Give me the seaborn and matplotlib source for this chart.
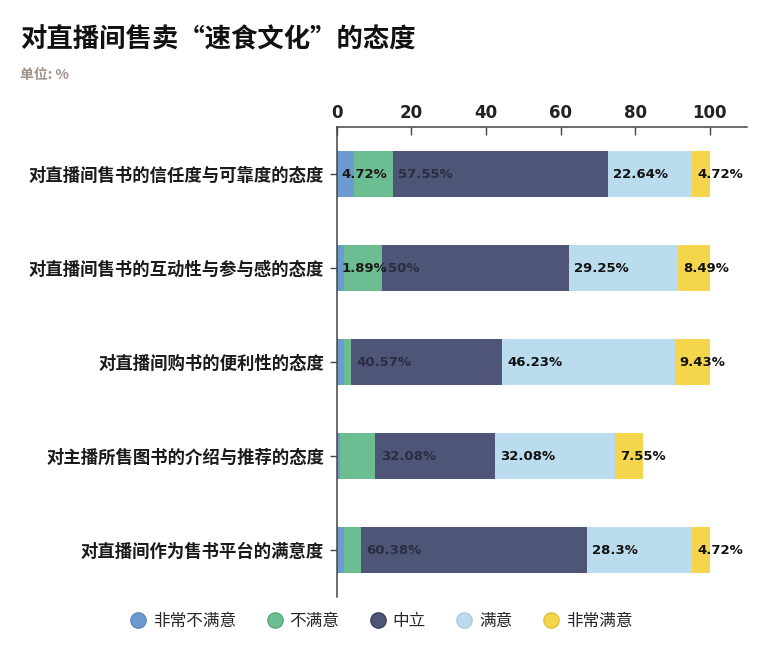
import numpy as np
import pandas as pd
import seaborn as sns
import matplotlib.pyplot as plt
from matplotlib.lines import Line2D

categories = ["对直播间售书的信任度与可靠度的态度",
              "对直播间售书的互动性与参与感的态度",
              "对直播间购书的便利性的态度",
              "对主播所售图书的介绍与推荐的态度",
              "对直播间作为售书平台的满意度"]
series = ["非常不满意", "不满意", "中立", "满意", "非常满意"]
very_unsat = [4.72, 1.89, 1.89, 0.94, 1.89]
unsat = [10.38, 10.38, 1.89, 9.43, 4.72]
neutral = [57.55, 50.0, 40.57, 32.08, 60.38]
sat = [22.64, 29.25, 46.23, 32.08, 28.3]
very_sat = [4.72, 8.49, 9.43, 7.55, 4.72]
label_texts = [
    ["4.72%", "", "57.55%", "22.64%", "4.72%"],
    ["1.89%", "", "50%", "29.25%", "8.49%"],
    ["", "", "40.57%", "46.23%", "9.43%"],
    ["", "", "32.08%", "32.08%", "7.55%"],
    ["", "", "60.38%", "28.3%", "4.72%"],
]
xticks = [0, 20, 40, 60, 80, 100]

colors = ["#6b9bcf", "#6dbd93", "#4f5576", "#badcee", "#f4d54b"]
edges = ["#5a88b8", "#5aa67e", "#3b4060", "#a9cde0", "#e2c23a"]
label_colors = ["#1a1a1a", "#1a1a1a", "#2a2d42", "#111111", "#111111"]

sns.set_theme(style="white")
plt.rcParams['font.family'] = ['Noto Sans CJK SC', 'DejaVu Sans']

vals = np.array([very_unsat, unsat, neutral, sat, very_sat])  # series x category
cum = np.cumsum(vals, axis=0)
starts = cum - vals

fig = plt.figure(figsize=(7.67, 6.52), dpi=100)
ax = fig.add_axes([0.439, 0.0844, 0.535, 0.7204])

for k in range(len(series) - 1, -1, -1):
    df = pd.DataFrame({"cat": categories, "val": cum[k]})
    sns.barplot(data=df, y="cat", x="val", orient="h", color=colors[k],
                width=0.49, ax=ax, saturation=1, edgecolor="none", linewidth=0)

num_font = ["DejaVu Sans"]
for i in range(len(categories)):
    for k in range(len(series)):
        t = label_texts[i][k]
        if t:
            ax.text(starts[k, i] + 1.4, i, t, va="center", ha="left",
                    fontsize=9.5, fontweight="bold", color=label_colors[k],
                    family=num_font)

ax.set_xlim(0, 110)
ax.set_ylim(4.5, -0.5)
ax.set_xticks(xticks)
ax.set_xticklabels([str(x) for x in xticks], fontsize=12, fontweight="bold",
                   color="#222222", family=num_font)
ax.xaxis.tick_top()
ax.tick_params(axis="x", which="both", direction="in", length=6, width=1,
               color="#444444", pad=4, top=True, bottom=False)
ax.tick_params(axis="y", which="both", direction="out", length=5, width=1,
               color="#444444", pad=4, left=True)
ax.set_yticks(range(len(categories)))
ax.set_yticklabels(categories, fontsize=12.5, fontweight="bold", color="#1a1a1a")
ax.set_xlabel("")
ax.set_ylabel("")
for s in ["right", "bottom"]:
    ax.spines[s].set_visible(False)
for s in ["top", "left"]:
    ax.spines[s].set_color("#444444")
    ax.spines[s].set_linewidth(1.1)

fig.text(0.026, 0.938, "对直播间售卖“速食文化”的态度", fontsize=19,
         fontweight="bold", color="#111111", va="center", ha="left")
fig.text(0.026, 0.885, "单位: %", fontsize=10, fontweight="bold",
         color="#9c8f86", va="center", ha="left")

handles = [Line2D([0], [0], marker="o", linestyle="", markersize=11,
                  markerfacecolor=colors[k], markeredgecolor=edges[k],
                  markeredgewidth=1) for k in range(len(series))]
fig.legend(handles, series, loc="center", bbox_to_anchor=(0.497, 0.047),
           ncol=5, frameon=False, fontsize=12, handletextpad=0.4,
           columnspacing=1.8, handlelength=1.0)

fig.savefig("out.png", dpi=100, facecolor="white")
